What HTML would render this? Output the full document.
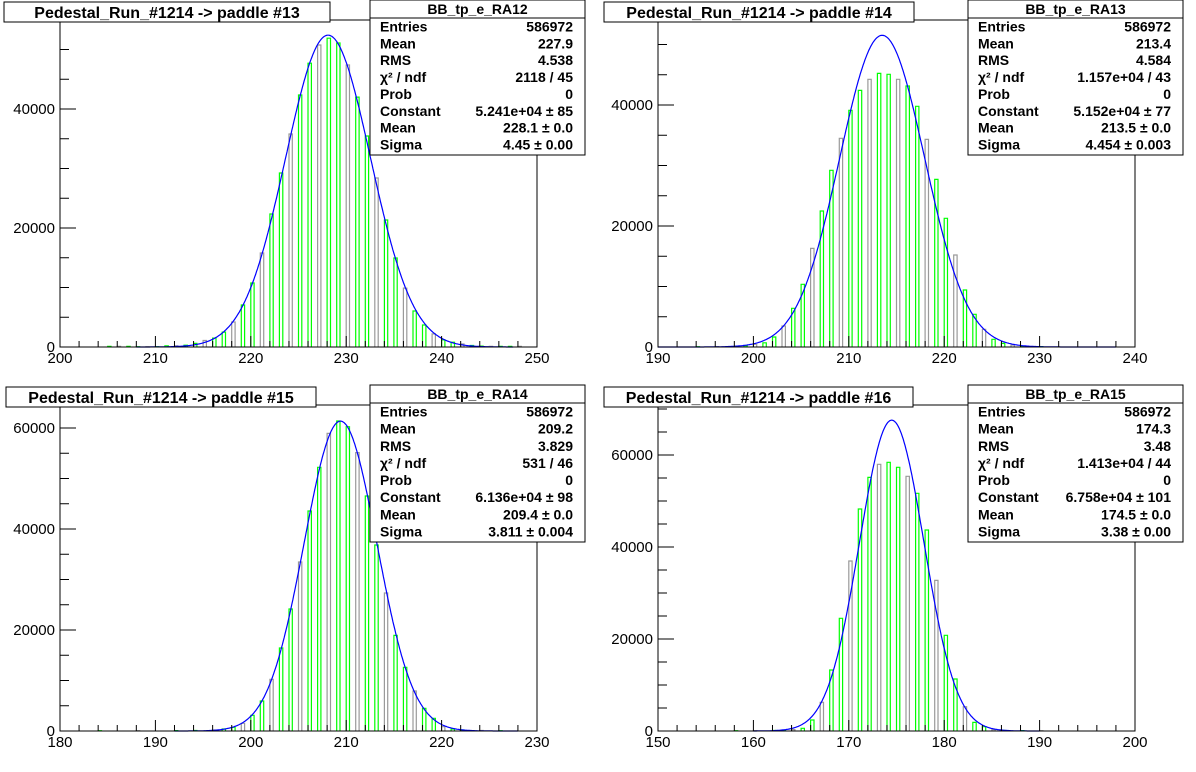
<!DOCTYPE html>
<html><head><meta charset="utf-8"><style>
html,body{margin:0;padding:0;background:#fff;}
svg{display:block;font-family:"Liberation Sans",Arial,sans-serif;}
.lbl{font-size:15px;fill:#000;}
.st{font-size:14px;font-weight:bold;fill:#000;}
.ttl{font-size:16px;font-weight:bold;fill:#000;}
</style></head><body>
<svg id="c" width="1196" height="772" viewBox="0 0 1196 772"></svg>
<script>
// ---- data ----
const p1Bins=[205,206,207,208,209,210,211,212,213,214,215,216,217,218,219,220,221,222,223,224,225,226,227,228,229,230,231,232,233,234,235,236,237,238,239,240,241,242,243,244,245,246,247,248];
const p1Vals=[100,100,100,50,50,50,200,200,300,600,1100,1500,2500,4200,7060,10750,15800,22350,29250,35800,42350,47700,50750,51900,51100,47400,42000,35460,28400,21350,14960,9900,6050,3700,2200,1200,800,500,250,150,100,100,100,100];
const p2Bins=[194,196,198,199,200,201,202,203,204,205,206,207,208,209,210,211,212,213,214,215,216,217,218,219,220,221,222,223,224,225,226,227,228,230];
const p2Vals=[50,60,100,200,440,700,1650,3470,6390,10360,16300,22480,29200,34490,39120,42420,44240,45230,45070,44240,43140,39780,34320,27710,21270,15210,9420,5400,2920,1270,600,330,150,60];
const p3Bins=[184,188,192,194,196,197,198,199,200,201,202,203,204,205,206,207,208,209,210,211,212,213,214,215,216,217,218,219,220,221,222,224,226];
const p3Vals=[50,60,80,100,200,400,730,1520,3100,5940,10230,16440,24160,33470,43560,52210,58940,61390,60260,55120,46530,36830,27330,18940,12610,7920,4490,2510,860,400,200,100,60];
const p4Bins=[158,160,162,163,164,165,166,167,168,169,170,171,172,173,174,175,176,177,178,179,180,181,182,183,184,185,186,188,190];
const p4Vals=[60,80,100,150,300,580,2390,6230,13260,24490,36960,48260,55140,57970,58410,57320,55360,51670,43700,32750,20800,11300,5290,1880,940,300,150,80,60];
// fit parameters (from stats boxes)
const p1Fit=[52410,228.1,4.45], p2Fit=[51520,213.5,4.454], p3Fit=[61360,209.4,3.811], p4Fit=[67580,174.5,3.38];
const xTicks1=[200,210,220,230,240,250], xTicks2=[190,200,210,220,230,240], xTicks3=[180,190,200,210,220,230], xTicks4=[150,160,170,180,190,200];
const yTicks12=[0,20000,40000], yTicks34=[0,20000,40000,60000];

const NS="http://www.w3.org/2000/svg";
const svg=document.getElementById('c');
function mk(tag,attrs,parent,text){const e=document.createElementNS(NS,tag);for(const k in attrs)e.setAttribute(k,attrs[k]);if(text!==undefined)e.textContent=text;(parent||svg).appendChild(e);return e;}

const pads=[
 {id:1,L:60,R:537,B:347,T:20,xmin:200,xmax:250,ymaxPx:238/40000,bins:p1Bins,vals:p1Vals,fit:p1Fit,xt:xTicks1,yt:yTicks12,fr:[208,247.5],title:"Pedestal_Run_#1214 -> paddle #13",tb:[4,2,326],sb:[370,0],name:"BB_tp_e_RA12",
  stats:[["Entries","586972"],["Mean","227.9"],["RMS","4.538"],["χ² / ndf","2118 / 45"],["Prob","0"],["Constant","5.241e+04 ± 85"],["Mean","228.1 ± 0.0"],["Sigma","4.45 ± 0.00"]]},
 {id:2,L:658,R:1135,B:347,T:20,xmin:190,xmax:240,ymaxPx:121/20000,bins:p2Bins,vals:p2Vals,fit:p2Fit,xt:xTicks2,yt:yTicks12,fr:[190,238],title:"Pedestal_Run_#1214 -> paddle #14",tb:[604,2,310],sb:[968,0],name:"BB_tp_e_RA13",
  stats:[["Entries","586972"],["Mean","213.4"],["RMS","4.584"],["χ² / ndf","1.157e+04 / 43"],["Prob","0"],["Constant","5.152e+04 ± 77"],["Mean","213.5 ± 0.0"],["Sigma","4.454 ± 0.003"]]},
 {id:3,L:60,R:537,B:731,T:405,xmin:180,xmax:230,ymaxPx:101/20000,bins:p3Bins,vals:p3Vals,fit:p3Fit,xt:xTicks3,yt:yTicks34,fr:[192,228],title:"Pedestal_Run_#1214 -> paddle #15",tb:[6,387,310],sb:[370,385],name:"BB_tp_e_RA14",
  stats:[["Entries","586972"],["Mean","209.2"],["RMS","3.829"],["χ² / ndf","531 / 46"],["Prob","0"],["Constant","6.136e+04 ± 98"],["Mean","209.4 ± 0.0"],["Sigma","3.811 ± 0.004"]]},
 {id:4,L:658,R:1135,B:731,T:405,xmin:150,xmax:200,ymaxPx:92/20000,bins:p4Bins,vals:p4Vals,fit:p4Fit,xt:xTicks4,yt:yTicks34,fr:[160,190],title:"Pedestal_Run_#1214 -> paddle #16",tb:[604,387,309],sb:[968,385],name:"BB_tp_e_RA15",
  stats:[["Entries","586972"],["Mean","174.3"],["RMS","3.48"],["χ² / ndf","1.413e+04 / 44"],["Prob","0"],["Constant","6.758e+04 ± 101"],["Mean","174.5 ± 0.0"],["Sigma","3.38 ± 0.00"]]}
];

pads.forEach(p=>{
 const g=mk('g',{});
 
 
 const sx=v=>p.L+(v-p.xmin)*(p.R-p.L)/(p.xmax-p.xmin);
 const sy=v=>p.B-v*p.ymaxPx;
 const unit=(p.R-p.L)/(p.xmax-p.xmin);
 // bars
 p.bins.forEach((b,i)=>{
  const x=sx(b), w=unit*0.35, y=sy(p.vals[i]);
  const r=mk('path',{d:`M${x.toFixed(1)},${p.B} V${y.toFixed(1)} H${(x+w).toFixed(1)} V${p.B}`,fill:'none',stroke:(i%3===1?'#9a9a9a':'#00ff00'),'stroke-width':1.2},g);
  
  
 });
 // fit curve
 let d='';
 for(let x=p.fr[0];x<=p.fr[1];x+=0.1){const v=p.fit[0]*Math.exp(-0.5*Math.pow((x-p.fit[1])/p.fit[2],2));d+=(d?'L':'M')+sx(x).toFixed(1)+','+sy(v).toFixed(1);}
 const c=mk('path',{d:d,fill:'none',stroke:'#0000ff','stroke-width':1.2},g);
 
 
 // frame
 const f=mk('rect',{x:p.L,y:p.T,width:p.R-p.L,height:p.B-p.T,fill:'none',stroke:'#000','stroke-width':1},g);
 
 
 // x ticks
 for(let v=p.xmin;v<=p.xmax+1e-9;v+=2){
  const major=(v%10===0);
  mk('line',{x1:sx(v),x2:sx(v),y1:p.B,y2:p.B-(major?11:6),stroke:'#000'},g);
 }
 p.xt.forEach(v=>{const t=mk('text',{x:sx(v),y:p.B+16,'text-anchor':'middle',class:'lbl'},g,String(v));
  
  });
 // y ticks
 for(let v=0;sy(v)>p.T+2;v+=5000){
  const major=(v%20000===0);
  mk('line',{x1:p.L,x2:p.L+(major?16:9),y1:sy(v),y2:sy(v),stroke:'#000'},g);
 }
 p.yt.forEach(v=>{const t=mk('text',{x:p.L-5,y:sy(v)+5,'text-anchor':'end',class:'lbl'},g,String(v));
  
  });
 // title box
 const tb=mk('rect',{x:p.tb[0],y:p.tb[1],width:p.tb[2],height:20,fill:'#fff',stroke:'#000'},g);
 
 
 const tt=mk('text',{x:p.tb[0]+p.tb[2]/2,y:p.tb[1]+16,'text-anchor':'middle',class:'ttl'},g,p.title);
 
 
 // stats box
 const bx=p.sb[0], by=p.sb[1], bw=215, bh=(p.id>2?157:155);
 const sb=mk('rect',{x:bx,y:by,width:bw,height:bh,fill:'#fff',stroke:'#000'},g);
 
 
 mk('line',{x1:bx,x2:bx+bw,y1:by+18,y2:by+18,stroke:'#000'},g);
 const sn=mk('text',{x:bx+bw/2,y:by+14,'text-anchor':'middle',class:'st'},g,p.name);
 
 
 const step=(bh-20)/8;
 p.stats.forEach((s,i)=>{
  const y=by+18+step*(i+0.5)+5;
  const a=mk('text',{x:bx+10,y:y,class:'st'},g,s[0]);
  
  
  const b=mk('text',{x:bx+bw-12,y:y,'text-anchor':'end',class:'st'},g,s[1]);
  
  
 });
});
</script>
</body></html>
